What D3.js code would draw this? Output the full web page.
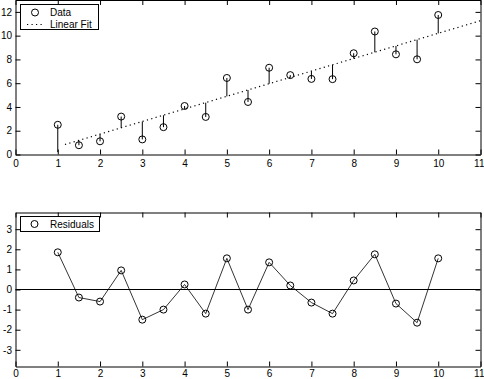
<!DOCTYPE html>
<html><head><meta charset="utf-8">
<script src="https://cdn.jsdelivr.net/npm/d3@7"></script>
<style>
html,body{margin:0;padding:0;background:#fff;}
svg{display:block;}
text{font-family:"Liberation Sans",Arial,Helvetica,sans-serif;font-size:10px;fill:#000;}
</style></head>
<body>
<svg id="c" width="484" height="379"></svg>
<script>
// ---- data ----
const xValues = [1,1.5,2,2.5,3,3.5,4,4.5,5,5.5,6,6.5,7,7.5,8,8.5,9,9.5,10];
const dataValues = [2.5,0.78,1.11,3.19,1.27,2.3,4.08,3.16,6.44,4.42,7.3,6.68,6.36,6.34,8.52,10.35,8.43,8.01,11.74];
const fitAtX = [0.2,1.18,1.71,2.24,2.77,3.3,3.83,4.36,4.89,5.42,5.95,6.48,7.01,7.54,8.07,8.6,9.13,9.66,10.19];
const residuals = [1.85,-0.4,-0.6,0.95,-1.5,-1.0,0.25,-1.2,1.55,-1.0,1.35,0.2,-0.65,-1.2,0.45,1.75,-0.7,-1.65,1.55];
const fitLineX = [1.17, 11];
const fitLineY = [0.84, 11.26];
const xTicks = [0,1,2,3,4,5,6,7,8,9,10,11];
const yTicksTop = [0,2,4,6,8,10,12];
const yTicksBottom = [-3,-2,-1,0,1,2,3];
const legendTop = ["Data","Linear Fit"];
const legendBottom = ["Residuals"];

const svg = d3.select("#c");
const L = 15.5, R = 480.5;
const x = d3.scaleLinear().domain([0,11]).range([L,R]);
const yT = d3.scaleLinear().domain([0,13]).range([154.5,0]);
const yB = d3.scaleLinear().domain([-3.83,3.83]).range([366.5,212.5]);
const tickLen = 5;

function frame(y, yTicks, xPad){
  const g = svg.append("g");
  const [y0,y1] = y.range();
  const xb = g.append("g").attr("transform",`translate(0,${y0})`)
    .call(d3.axisBottom(x).tickValues(xTicks).tickSizeInner(-tickLen).tickSizeOuter(0).tickPadding(xPad).tickFormat(d3.format("d")));
  xb.selectAll(".tick text").filter(d=>d===11).attr("text-anchor","end").attr("dx","3.5");
  g.append("g").attr("transform",`translate(0,${y1})`)
    .call(d3.axisTop(x).tickValues(xTicks).tickSizeInner(-tickLen).tickSizeOuter(0).tickFormat(""));
  g.append("g").attr("transform",`translate(${L},0)`)
    .call(d3.axisLeft(y).tickValues(yTicks).tickSizeInner(-tickLen).tickSizeOuter(0).tickPadding(3.5).tickFormat(d=>String(d)));
  g.append("g").attr("transform",`translate(${R},0)`)
    .call(d3.axisRight(y).tickValues(yTicks).tickSizeInner(-tickLen).tickSizeOuter(0).tickFormat(""));
  g.selectAll(".domain").attr("stroke","#000").attr("stroke-width",1);
  g.selectAll(".tick line").attr("stroke","#000");
  g.selectAll("text").attr("font-size",10).attr("font-family","Liberation Sans, Arial, sans-serif");
  return g;
}
frame(yT, yTicksTop, 5);
frame(yB, yTicksBottom, 3.3);

// ---- top plot ----
const gTop = svg.append("g");
gTop.selectAll("line.stem").data(xValues).join("line")
  .attr("x1",d=>x(d)).attr("x2",d=>x(d))
  .attr("y1",(d,i)=>yT(dataValues[i])).attr("y2",(d,i)=>yT(fitAtX[i]))
  .attr("stroke","#000").attr("stroke-width",1);
gTop.append("path")
  .datum(fitLineX.map((d,i)=>[d,fitLineY[i]]))
  .attr("d",d3.line().x(d=>x(d[0])).y(d=>yT(d[1])))
  .attr("fill","none").attr("stroke","#000").attr("stroke-width",1.2).attr("stroke-dasharray","1.2,3.3");
gTop.selectAll("circle").data(xValues).join("circle")
  .attr("cx",d=>x(d)).attr("cy",(d,i)=>yT(dataValues[i])).attr("r",3.5)
  .attr("fill","none").attr("stroke","#000").attr("stroke-width",1);

// top legend
const lg = svg.append("g");
lg.append("rect").attr("x",20.5).attr("y",4.5).attr("width",78).attr("height",25)
  .attr("fill","#fff").attr("stroke","#000");
lg.append("circle").attr("cx",35).attr("cy",12.5).attr("r",3.5).attr("fill","none").attr("stroke","#000");
lg.append("text").attr("x",50).attr("y",16).text(legendTop[0]);
lg.append("line").attr("x1",27).attr("x2",43).attr("y1",24.5).attr("y2",24.5)
  .attr("stroke","#000").attr("stroke-width",1.2).attr("stroke-dasharray","1.2,3.3");
lg.append("text").attr("x",50).attr("y",28).text(legendTop[1]);

// ---- bottom plot ----
const gBot = svg.append("g");
gBot.append("line").attr("x1",x(0)).attr("x2",x(11)).attr("y1",yB(0)).attr("y2",yB(0))
  .attr("stroke","#000").attr("stroke-width",1);
gBot.append("path").datum(xValues)
  .attr("d",d3.line().x(d=>x(d)).y((d,i)=>yB(residuals[i])))
  .attr("fill","none").attr("stroke","#000").attr("stroke-width",0.8);
gBot.selectAll("circle").data(xValues).join("circle")
  .attr("cx",d=>x(d)).attr("cy",(d,i)=>yB(residuals[i])).attr("r",3.5)
  .attr("fill","none").attr("stroke","#000").attr("stroke-width",1);

const lb = svg.append("g");
lb.append("rect").attr("x",20.5).attr("y",216.5).attr("width",79).attr("height",15)
  .attr("fill","#fff").attr("stroke","#000");
lb.append("circle").attr("cx",34.5).attr("cy",224).attr("r",3.5).attr("fill","none").attr("stroke","#000");
lb.append("text").attr("x",50).attr("y",228).text(legendBottom[0]);
</script>
</body></html>
